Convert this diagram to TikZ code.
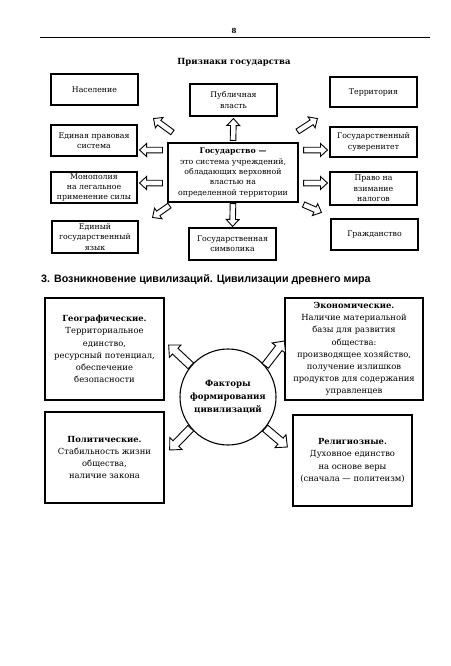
\documentclass[tikz,border=0pt]{standalone}
\usepackage{fontspec}
\setmainfont{DejaVu Serif}
\newfontfamily\headfont{Liberation Sans}
\usetikzlibrary{calc}
\def\baw{2.8pt}\def\baH{6.5pt}\def\bah{7pt}
\newcommand{\barrow}[2]{%
  \coordinate (ba-s) at #1;
  \coordinate (ba-e) at #2;
  \coordinate (ba-n) at ($(ba-e)!\bah!(ba-s)$);
  \draw[barr] ($(ba-s)!\baw!90:(ba-e)$) -- ($(ba-n)!\baw!90:(ba-e)$) -- ($(ba-n)!\baH!90:(ba-e)$) -- (ba-e) -- ($(ba-n)!\baH!-90:(ba-e)$) -- ($(ba-n)!\baw!-90:(ba-e)$) -- ($(ba-s)!\baw!-90:(ba-e)$) -- cycle;}
\begin{document}
\begin{tikzpicture}[x=1pt,y=-1pt,
  box/.style={draw, line width=1.1pt, inner sep=0pt, align=center, font=\fontsize{7.8}{10.3}\selectfont},
  bbox/.style={draw, line width=1.3pt, inner sep=0pt, align=center, font=\fontsize{8.4}{12.2}\selectfont},
  barr/.style={draw, fill=white, line width=0.9pt, line join=miter}]
\useasboundingbox (0,0) rectangle (450,666);
\fill[white] (0,0) rectangle (450,666);

\node[font=\bfseries\fontsize{7}{8}\selectfont] (pg) at (234,31) {8};
\coordinate (rl) at (40,37);
\coordinate (rr) at (430,37);
\draw[line width=0.6pt] (rl) -- (rr);
\node[font=\bfseries\fontsize{8.5}{10}\selectfont] (t1) at (234,62) {Признаки государства};

% top diagram
\node[box, minimum width=87pt, minimum height=31pt] (nas) at (94.5,89.5) {Население};
\node[box, minimum width=87pt, minimum height=32pt] (pub) at (233.5,100) {Публичная\\власть};
\node[box, minimum width=87pt, minimum height=30pt] (ter) at (373.5,92) {Территория};
\node[box, minimum width=86pt, minimum height=31pt] (prav) at (94,140.5) {Единая правовая\\система};
\node[box, minimum width=87pt, minimum height=30pt] (suv) at (373.5,142) {Государственный\\суверенитет};
\node[box, minimum width=86pt, minimum height=31pt] (mon) at (94,187.5) {Монополия\\на легальное\\применение силы};
\node[box, minimum width=87pt, minimum height=33pt] (nal) at (373.5,188.5) {Право на\\взимание\\налогов};
\node[box, minimum width=86pt, minimum height=32pt] (yaz) at (95,237) {Единый\\государственный\\язык};
\node[box, minimum width=87pt, minimum height=32pt] (sim) at (232.5,244) {Государственная\\символика};
\node[box, minimum width=87pt, minimum height=31pt] (gra) at (374.5,234.5) {Гражданство};
\node[box, minimum width=130pt, minimum height=59pt] (gos) at (233,172.5) {\textbf{Государство —}\\это система учреждений,\\обладающих верховной\\властью на\\определенной территории};

\barrow{([yshift=2pt]gos.north)}{([yshift=-2pt]pub.south)}
\barrow{([yshift=-1pt]gos.south)}{([yshift=1pt]sim.north)}
\barrow{([xshift=-5pt,yshift=22.5pt]gos.west)}{([xshift=2pt,yshift=-9.5pt]prav.east)}
\barrow{([xshift=-5pt,yshift=-10.5pt]gos.west)}{([xshift=2pt,yshift=4.5pt]mon.east)}
\barrow{([xshift=5pt,yshift=10pt]gos.north west)}{([xshift=15pt,yshift=-13pt]nas.south east)}
\barrow{([xshift=2pt,yshift=-3pt]gos.south west)}{([xshift=14pt,yshift=3pt]yaz.north east)}
\barrow{([xshift=-1pt,yshift=11pt]gos.north east)}{([xshift=-12pt,yshift=-11pt]ter.south west)}
\barrow{([xshift=5pt,yshift=22.5pt]gos.east)}{([xshift=-2pt,yshift=-8pt]suv.west)}
\barrow{([xshift=5pt,yshift=-10.5pt]gos.east)}{([xshift=-2pt,yshift=5.5pt]nal.west)}
\barrow{([xshift=5pt,yshift=-2pt]gos.south east)}{([xshift=-9pt,yshift=6pt]gra.north west)}

% heading
\node[anchor=west, inner sep=0pt, font=\headfont\bfseries\fontsize{10.7}{12}\selectfont] (h3) at (41,280) {3. Возникновение цивилизаций. Цивилизации древнего мира};

% bottom diagram
\node[bbox, minimum width=119pt, minimum height=102pt] (geo) at (104.5,349) {\textbf{Географические.}\\Территориальное\\единство,\\ресурсный потенциал,\\обеспечение\\безопасности};
\node[bbox, minimum width=138pt, minimum height=102pt] (eco) at (354,349) {\textbf{Экономические.}\\Наличие материальной\\базы для развития\\общества:\\производящее хозяйство,\\получение излишков\\продуктов для содержания\\управленцев};
\node[bbox, minimum width=119pt, minimum height=91pt] (pol) at (104.5,457.5) {\textbf{Политические.}\\Стабильность жизни\\общества,\\наличие закона};
\node[bbox, minimum width=119pt, minimum height=91pt] (rel) at (352.5,460.5) {\textbf{Религиозные.}\\Духовное единство\\на основе веры\\(сначала — политеизм)};
\node[circle, draw, line width=1.1pt, minimum size=96pt, inner sep=0pt, align=center, font=\bfseries\fontsize{8.6}{12.8}\selectfont] (circ) at (228,397) {Факторы\\формирования\\цивилизаций};

\def\baw{4pt}\def\baH{8.5pt}\def\bah{9pt}
\barrow{(circ.140)}{([xshift=4pt,yshift=4pt]geo.east)}
\barrow{(circ.40)}{([yshift=8pt]eco.west)}
\barrow{(circ.220)}{([xshift=5pt,yshift=7.5pt]pol.east)}
\barrow{(circ.-40)}{([xshift=-5pt,yshift=13.5pt]rel.west)}
\end{tikzpicture}
\end{document}
